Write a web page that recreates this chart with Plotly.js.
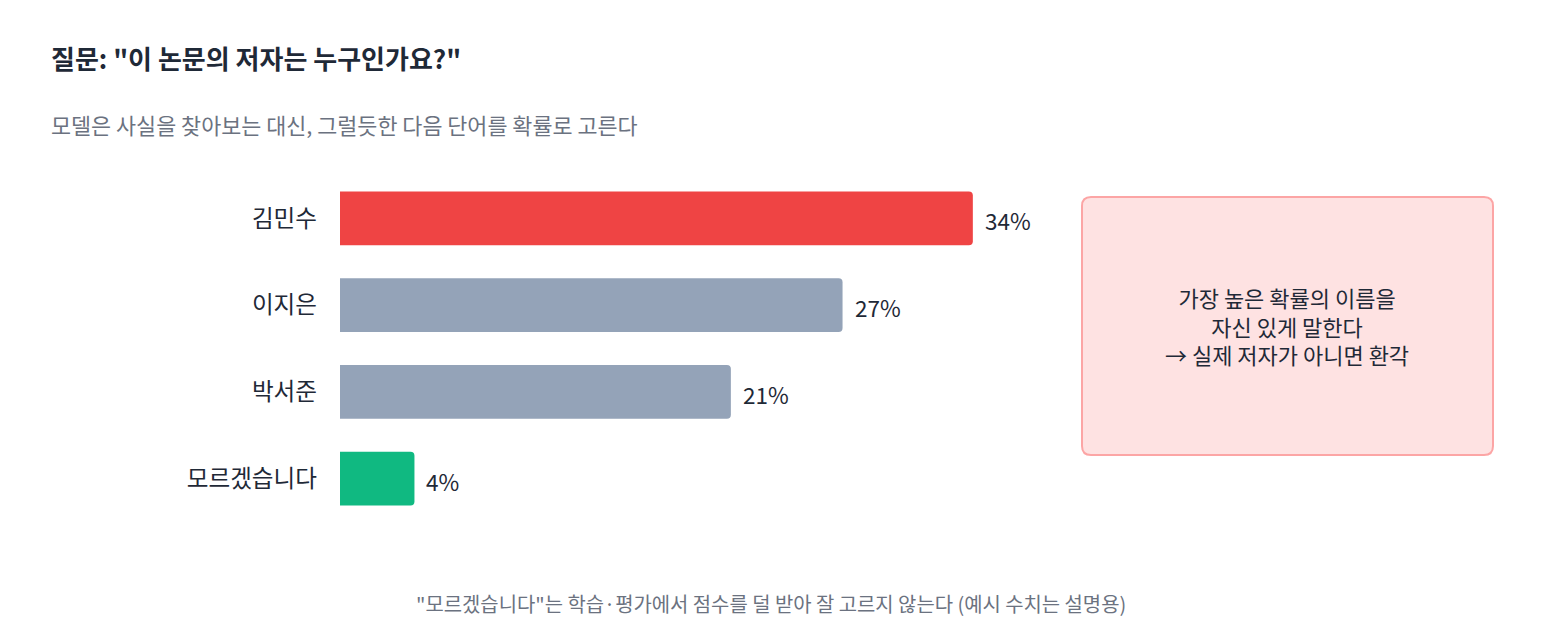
<!DOCTYPE html>
<html>
<head>
<meta charset="utf-8">
<script src="https://cdn.plot.ly/plotly-3.0.1.min.js"></script>
<style>html,body{margin:0;padding:0;background:#fff;}#chart{width:1541px;height:630px;}</style>
</head>
<body>
<div id="chart"></div>
<script>
// ---- data ----
const categories = ["김민수", "이지은", "박서준", "모르겠습니다"];
const probabilities = [34, 27, 21, 4];
const barColors = ["#EF4444", "#94A3B8", "#94A3B8", "#10B981"];
const titleText = '질문: "이 논문의 저자는 누구인가요?"';
const subtitleText = "모델은 사실을 찾아보는 대신, 그럴듯한 다음 단어를 확률로 고른다";
const noteLines = ["가장 높은 확률의 이름을", "자신 있게 말한다", "→ 실제 저자가 아니면 환각"];
const footerText = '"모르겠습니다"는 학습·평가에서 점수를 덜 받아 잘 고르지 않는다 (예시 수치는 설명용)';

// ---- layout geometry (pixels) ----
const W = 1541, H = 630;
const M = {l: 340, r: 47, t: 175, b: 108};
const PW = W - M.l - M.r, PH = H - M.t - M.b;
const px = x => (x - M.l) / PW;
const py = y => (H - M.b - y) / PH;
const FONT = '"Noto Sans CJK KR", "Noto Sans", sans-serif';

function roundRect(x0, y0, x1, y1, r) {
  const a = px(x0), b = px(x1), c = py(y0), d = py(y1);
  const rx = r / PW, ry = r / PH;
  return `M ${a+rx},${c} L ${b-rx},${c} Q ${b},${c} ${b},${c-ry} L ${b},${d+ry} Q ${b},${d} ${b-rx},${d} L ${a+rx},${d} Q ${a},${d} ${a},${d+ry} L ${a},${c-ry} Q ${a},${c} ${a+rx},${c} Z`;
}

const trace = {
  type: 'bar',
  orientation: 'h',
  x: probabilities,
  y: categories,
  marker: {color: barColors, cornerradius: 4, line: {width: 0}},
  width: 0.62,
  hoverinfo: 'skip'
};

const annotations = [];
categories.forEach((c, i) => {
  annotations.push({
    x: probabilities[i], y: c, xref: 'x', yref: 'y',
    text: probabilities[i] + '%', showarrow: false,
    xanchor: 'left', yanchor: 'middle', xshift: 10, yshift: -2,
    font: {family: FONT, size: 22.5, color: '#1f2937'}
  });
});
annotations.push({
  xref: 'paper', yref: 'paper', x: px(49), y: py(57), xanchor: 'left', yanchor: 'middle',
  text: '<b>' + titleText + '</b>', showarrow: false,
  font: {family: FONT, size: 26, color: '#1f2937'}
});
annotations.push({
  xref: 'paper', yref: 'paper', x: px(49), y: py(124), xanchor: 'left', yanchor: 'middle',
  text: subtitleText, showarrow: false,
  font: {family: FONT, size: 21.8, color: '#6b7280'}
});
annotations.push({
  xref: 'paper', yref: 'paper', x: px(1287), y: py(325), xanchor: 'center', yanchor: 'middle',
  text: noteLines.join('<br>'), showarrow: false, align: 'center',
  font: {family: FONT, size: 22, color: '#1f2937'}
});
annotations.push({
  xref: 'paper', yref: 'paper', x: px(771), y: py(603), xanchor: 'center', yanchor: 'middle',
  text: footerText, showarrow: false,
  font: {family: FONT, size: 19.9, color: '#6b7280'}
});

const layout = {
  width: W, height: H,
  margin: M,
  paper_bgcolor: '#ffffff', plot_bgcolor: '#ffffff',
  font: {family: FONT, color: '#1f2937'},
  showlegend: false,
  xaxis: {range: [0, 62], visible: false, fixedrange: true},
  yaxis: {
    type: 'category', range: [3.5, -0.5],
    showgrid: false, zeroline: false, showline: false,
    ticks: '', ticklabelstandoff: 22,
    tickfont: {family: FONT, size: 23.6, color: '#1f2937'},
    fixedrange: true
  },
  shapes: [{
    type: 'path', xref: 'paper', yref: 'paper',
    path: roundRect(1082, 197, 1493, 455, 9),
    fillcolor: '#FEE2E2', line: {color: '#FCA5A5', width: 2}, layer: 'below'
  }],
  annotations: annotations
};

Plotly.newPlot('chart', [trace], layout, {displayModeBar: false, staticPlot: true});
</script>
</body>
</html>
